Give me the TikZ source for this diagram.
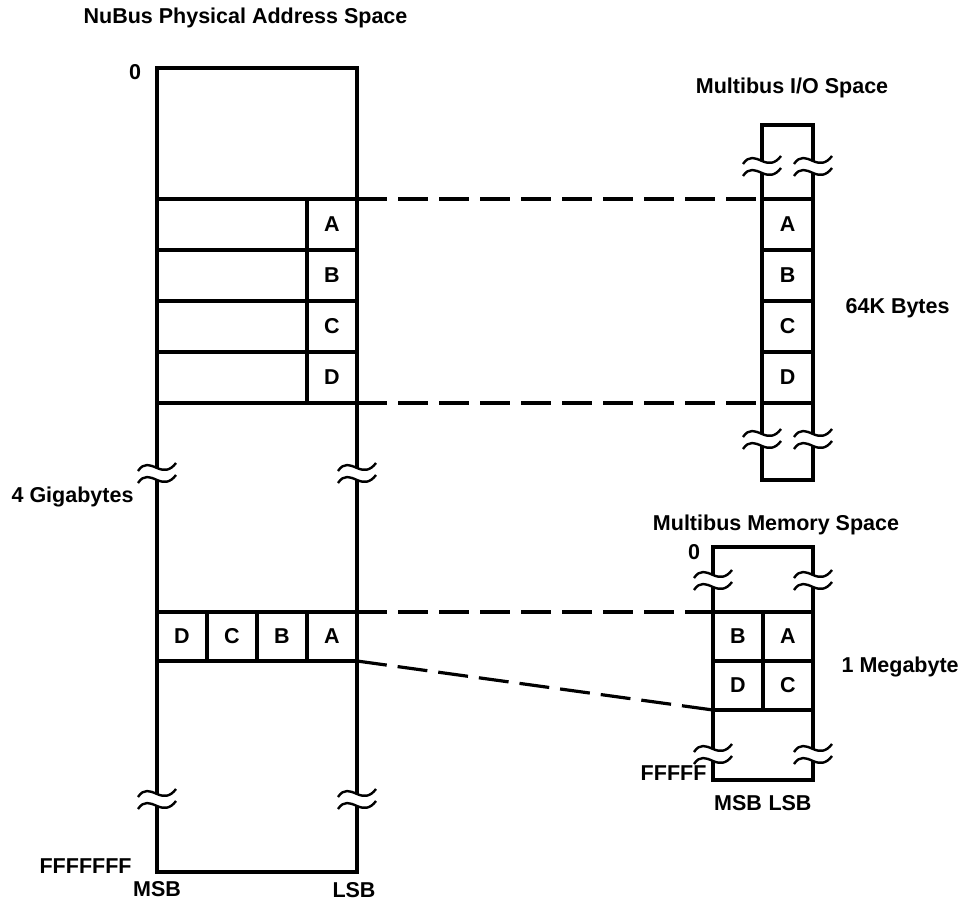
\documentclass[tikz,border=0pt]{standalone}
\usepackage{fontspec}
\setmainfont{Liberation Sans}
\newcommand\brkmark[2]{%
  \begin{scope}[shift={(#1,#2)}]
    \fill[white] (-8,-6) rectangle (8,6);
    \draw[line width=2.4pt] (-19,-3) .. controls (-13,-12) and (-7,-9) .. (0,-6) .. controls (7,-3) and (13,-3) .. (19,-11);
    \draw[line width=2.4pt] (-19,9) .. controls (-13,0) and (-7,3) .. (0,6) .. controls (7,9) and (13,9) .. (19,1);
  \end{scope}}
\begin{document}
\begin{tikzpicture}[x=1pt,y=-1pt,line width=3.2pt,
  every node/.style={font=\bfseries\fontsize{21.5}{25}\selectfont},
  cell/.style={draw,minimum width=50pt,minimum height=51pt,inner sep=0pt,outer sep=0pt},
  lbl/.style={inner sep=0pt},
  dsh/.style={dash pattern=on 30pt off 11pt}]
\useasboundingbox (0,0) rectangle (968,907);
% ---------- NuBus box ----------
\draw (157,68) rectangle (357,872);
\node[cell] (nA) at (332,224.5) {A};
\node[cell] (nB) at (332,275.5) {B};
\node[cell] (nC) at (332,326.5) {C};
\node[cell] (nD) at (332,377.5) {D};
\draw (157,199) -- (nA.north west);
\draw (157,250) -- (nB.north west);
\draw (157,301) -- (nC.north west);
\draw (157,352) -- (nD.north west);
\draw (157,403) -- (nD.south west);
\node[cell,minimum height=49pt] (bD) at (182,636.5) {D};
\node[cell,minimum height=49pt] (bC) at (232,636.5) {C};
\node[cell,minimum height=49pt] (bB) at (282,636.5) {B};
\node[cell,minimum height=49pt] (bA) at (332,636.5) {A};
\brkmark{157}{474}\brkmark{357}{474}
\brkmark{157}{800}\brkmark{357}{800}
% ---------- I/O box ----------
\draw (762,480) -- (762,125) -- (813,125) -- (813,480) -- cycle;
\node[cell] (iA) at (787.5,224.5) {A};
\node[cell] (iB) at (787.5,275.5) {B};
\node[cell] (iC) at (787.5,326.5) {C};
\node[cell] (iD) at (787.5,377.5) {D};
\brkmark{762}{167}\brkmark{813}{167}
\brkmark{762}{440}\brkmark{813}{440}
% ---------- Memory box ----------
\draw (713,547) rectangle (813,780);
\node[cell,minimum height=49pt] (mB) at (738,636.5) {B};
\node[cell,minimum height=49pt] (mA) at (788,636.5) {A};
\node[cell,minimum height=49pt] (mD) at (738,685.5) {D};
\node[cell,minimum height=49pt] (mC) at (788,685.5) {C};
\brkmark{713}{581}\brkmark{813}{581}
\brkmark{713}{755}\brkmark{813}{755}
% ---------- dashed connectors ----------
\draw[dsh] (nA.north east) -- (iA.north west);
\draw[dsh] (nD.south east) -- (iD.south west);
\draw[dsh] (bA.north east) -- (mB.north west);
\draw[dsh] (bA.south east) -- (mD.south west);
% ---------- labels ----------
\node[lbl,anchor=west] (t1) at (82,18) {NuBus Physical Address Space};
\node[lbl] (z1) at (135,72) {0};
\node[lbl] (t2) at (792,88) {Multibus I/O Space};
\node[lbl,anchor=west] (t3) at (844,308) {64K Bytes};
\node[lbl,anchor=west] (t4) at (10,497) {4 Gigabytes};
\node[lbl] (t5) at (776,525) {Multibus Memory Space};
\node[lbl] (z2) at (694,552) {0};
\node[lbl,anchor=west] (t6) at (840,667) {1 Megabyte};
\node[lbl,anchor=east] (t7) at (708,773) {FFFFF};
\node[lbl] (t8) at (738,803) {MSB};
\node[lbl] (t9) at (790,803) {LSB};
\node[lbl,anchor=west] (t10) at (38,866) {FFFFFFF};
\node[lbl] (t11) at (157,889) {MSB};
\node[lbl] (t12) at (354,890) {LSB};
\end{tikzpicture}
\end{document}
